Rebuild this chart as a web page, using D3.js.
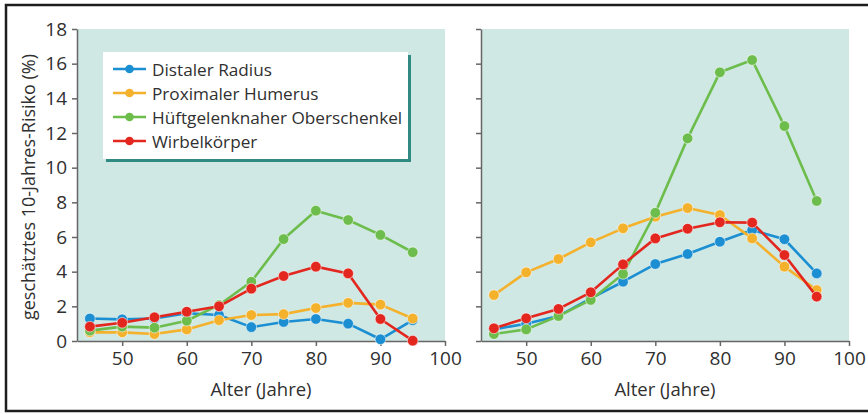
<!DOCTYPE html>
<html><head><meta charset="utf-8">
<script src="https://cdn.jsdelivr.net/npm/d3@7/dist/d3.min.js"></script>
<style>
html,body{margin:0;padding:0;background:#fff;}
svg{display:block;font-family:"Open Sans",sans-serif;}
</style></head>
<body>
<svg id="c" width="868" height="414"></svg>
<script>
const ages = [45,50,55,60,65,70,75,80,85,90,95];
const xTicks = [50,60,70,80,90,100];
const yTicks = [0,2,4,6,8,10,12,14,16,18];
const seriesNames = ["Distaler Radius","Proximaler Humerus","Hüftgelenknaher Oberschenkel","Wirbelkörper"];
const seriesColors = ["#1b8fd2","#f4b12c","#6dbd4c","#e3261e"];

// left panel
const leftRadius   = [1.3,1.25,1.3,1.6,1.5,0.8,1.1,1.27,1.0,0.1,1.2];
const leftHumerus  = [0.5,0.5,0.4,0.67,1.2,1.5,1.55,1.9,2.2,2.1,1.3];
const leftHip      = [0.6,0.83,0.77,1.17,2.08,3.42,5.88,7.52,6.98,6.12,5.12];
const leftVertebra = [0.83,1.05,1.37,1.69,2.0,3.02,3.75,4.29,3.9,1.27,0.02];
// right panel
const rightRadius   = [0.67,1.0,1.44,2.46,3.42,4.44,5.02,5.73,6.4,5.87,3.9];
const rightHumerus  = [2.65,3.96,4.73,5.69,6.5,7.17,7.67,7.27,5.92,4.29,2.94];
const rightHip      = [0.4,0.67,1.44,2.37,3.87,7.4,11.69,15.5,16.21,12.4,8.08];
const rightVertebra = [0.73,1.31,1.85,2.81,4.42,5.92,6.48,6.85,6.83,4.96,2.56];

const leftData  = [leftRadius,leftHumerus,leftHip,leftVertebra];
const rightData = [rightRadius,rightHumerus,rightHip,rightVertebra];
const drawOrder = [0,1,2,3];

const svg = d3.select("#c");
const textColor = "#303030";
const axisColor = "#666";
const bg = "#cfe8e4";

// frame
svg.append("rect").attr("x",6).attr("y",5).attr("width",880).attr("height",406)
  .attr("fill","none").attr("stroke","#1e1e1e").attr("stroke-width",2.5);

const y = d3.scaleLinear().domain([0,18]).range([341,29]);

function panel(x0, x1, data, showYLabels){
  const x = d3.scaleLinear().domain([43,100]).range([x0,x1]);
  const g = svg.append("g");
  g.append("rect").attr("x",x0).attr("y",y(18)).attr("width",x1-x0).attr("height",y(0)-y(18)).attr("fill",bg);

  const ya = g.append("g").attr("transform",`translate(${x0},0)`)
    .call(d3.axisLeft(y).tickValues(yTicks).tickSize(5).tickSizeOuter(0).tickPadding(5)
      .tickFormat(showYLabels ? d3.format("d") : ""));
  const xa = g.append("g").attr("transform",`translate(0,${y(0)})`)
    .call(d3.axisBottom(x).tickValues(xTicks).tickSize(5).tickSizeOuter(0).tickPadding(6).tickFormat(d3.format("d")));
  [ya,xa].forEach(a=>{
    a.select(".domain").attr("stroke",axisColor).attr("stroke-width",1.5);
    a.selectAll(".tick line").attr("stroke",axisColor).attr("stroke-width",1.5);
    a.selectAll(".tick text").attr("fill",textColor).attr("font-size","19px").attr("font-family","'Open Sans',sans-serif");
  });

  const line = d3.line().x((d,i)=>x(ages[i])).y(d=>y(d));
  drawOrder.forEach(s=>{
    const vals = data[s];
    g.append("path").datum(vals).attr("d",line).attr("fill","none")
      .attr("stroke",seriesColors[s]).attr("stroke-width",2.6).attr("stroke-linejoin","round");
    g.selectAll(null).data(vals).enter().append("circle")
      .attr("cx",(d,i)=>x(ages[i])).attr("cy",d=>y(d)).attr("r",5.3)
      .attr("fill",seriesColors[s]).attr("stroke","rgba(255,255,255,0.55)").attr("stroke-width",1);
  });

  g.append("text").attr("x",(x0+x1)/2).attr("y",388).attr("text-anchor","middle")
    .attr("dominant-baseline","central").attr("font-size","18.5px").attr("fill",textColor).text("Alter (Jahre)");
  return x;
}

panel(77,445,leftData,true);
panel(481,849,rightData,false);

svg.append("text").attr("transform","translate(28,187) rotate(-90)").attr("text-anchor","middle")
  .attr("dominant-baseline","central").attr("font-size","18px").attr("fill",textColor)
  .text("geschätztes 10-Jahres-Risiko (%)");

// legend
const lg = svg.append("g");
lg.append("rect").attr("x",106).attr("y",55).attr("width",305).attr("height",107).attr("fill","#2f8a82");
lg.append("rect").attr("x",103).attr("y",52).attr("width",305).attr("height",107).attr("fill","#fff");
const rowY = [69,93,117,141];
seriesNames.forEach((n,i)=>{
  lg.append("line").attr("x1",113).attr("x2",146).attr("y1",rowY[i]).attr("y2",rowY[i])
    .attr("stroke",seriesColors[i]).attr("stroke-width",2.6);
  lg.append("circle").attr("cx",129.5).attr("cy",rowY[i]).attr("r",4.3).attr("fill",seriesColors[i]);
  lg.append("text").attr("x",152).attr("y",rowY[i]).attr("dominant-baseline","central")
    .attr("font-size","17.2px").attr("fill",textColor).text(n);
});
</script>
</body></html>
